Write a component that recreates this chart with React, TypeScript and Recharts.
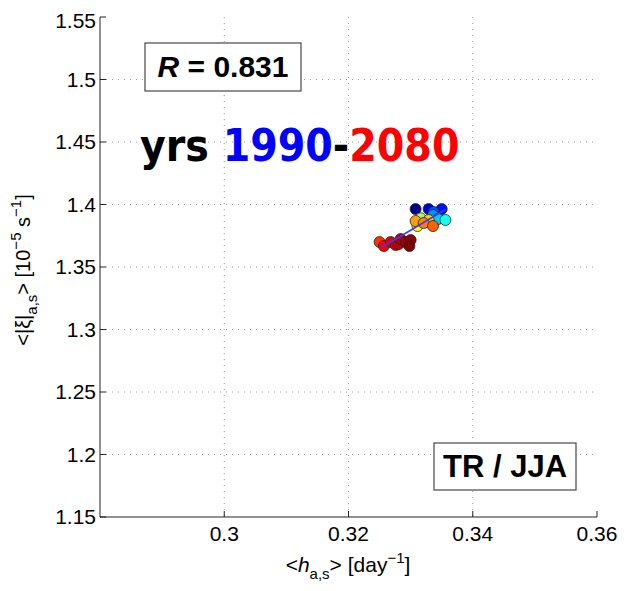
import React from "react";
import {
  ScatterChart,
  Scatter,
  XAxis,
  YAxis,
  CartesianGrid,
  Cell,
} from "recharts";

// h_{a,s} [day^-1]
const xValues = [
  0.3308, 0.3329, 0.3350, 0.3337, 0.3336, 0.3344, 0.3356, 0.3327, 0.3316,
  0.3311, 0.3329, 0.3308, 0.3321, 0.3336, 0.3250, 0.3257, 0.3268, 0.3276,
  0.3281, 0.3284, 0.3292, 0.3300, 0.3298,
];
// <|xi|_{a,s}> [1e-5 s^-1]
const yValues = [
  1.3964, 1.3964, 1.3964, 1.3940, 1.3916, 1.3884, 1.3876, 1.3860, 1.3890,
  1.3828, 1.3876, 1.3868, 1.3852, 1.3828, 1.3700, 1.3668, 1.3700, 1.3676,
  1.3684, 1.3724, 1.3700, 1.3716, 1.3668,
];
const pointColors = [
  "#00008f", "#0000c8", "#0010ff", "#0050ff", "#0090ff", "#00d0ff", "#10ffef",
  "#50ffaf", "#a0ff60", "#ffff00", "#ffd000", "#ffa000", "#ff8000", "#ff6000",
  "#ff3000", "#ff0000", "#e00000", "#d00000", "#c00000", "#b00000", "#a00000",
  "#900000", "#800000",
];
const fitX = [0.3252, 0.3356];
const fitY = [1.3652, 1.3960];

const xTicks = [0.3, 0.32, 0.34, 0.36];
const yTicks = [1.15, 1.2, 1.25, 1.3, 1.35, 1.4, 1.45, 1.5, 1.55];
const xGrid = [0.3, 0.32, 0.34];
const yGrid = [1.2, 1.25, 1.3, 1.35, 1.4, 1.45, 1.5];

const data = xValues.map((x, i) => ({ x, y: yValues[i] }));
const fitData = fitX.map((x, i) => ({ x, y: fitY[i] }));

const W = 610;
const H = 575;
const tickFont = { fontFamily: "'Liberation Sans', Arial, sans-serif", fontSize: 21, fill: "#000" };
const axisColor = "#222";

export default function App() {
  return (
    <div style={{ position: "relative", width: W, height: H }}>
      <ScatterChart
        width={W}
        height={H}
        margin={{ top: 9, right: 21, bottom: 0, left: 0 }}
      >
        <CartesianGrid
          xAxisId="b"
          yAxisId="l"
          stroke="#9a9a9a"
          strokeDasharray="1 5"
          horizontalValues={yGrid}
          verticalValues={xGrid}
        />
        <XAxis
          type="number"
          dataKey="x"
          xAxisId="b"
          domain={[0.28, 0.36]}
          ticks={xTicks}
          tickFormatter={(v: number) => String(v)}
          height={66}
          tickSize={-6}
          tickMargin={15}
          tick={tickFont}
          stroke={axisColor}
          allowDataOverflow
        />
        <XAxis
          type="number"
          xAxisId="t"
          orientation="top"
          domain={[0.28, 0.36]}
          ticks={xTicks}
          height={0}
          tickSize={-6}
          tick={false}
          stroke={axisColor}
          allowDataOverflow
        />
        <YAxis
          type="number"
          dataKey="y"
          yAxisId="l"
          domain={[1.15, 1.55]}
          ticks={yTicks}
          tickFormatter={(v: number) => String(v)}
          width={92}
          tickSize={-6}
          tickMargin={10}
          tick={tickFont}
          stroke={axisColor}
          allowDataOverflow
        />
        <YAxis
          type="number"
          yAxisId="r"
          orientation="right"
          domain={[1.15, 1.55]}
          ticks={yTicks}
          width={0}
          tickSize={-6}
          tick={false}
          stroke={axisColor}
          allowDataOverflow
        />
        <Scatter
          data={data}
          xAxisId="b"
          yAxisId="l"
          isAnimationActive={false}
          shape={(p: any) => (
            <circle cx={p.cx} cy={p.cy} r={5.5} fill={p.fill} stroke="#222" strokeWidth={0.8} />
          )}
        >
          {data.map((_, i) => (
            <Cell key={i} fill={pointColors[i]} />
          ))}
        </Scatter>
        <Scatter
          data={fitData}
          xAxisId="b"
          yAxisId="l"
          isAnimationActive={false}
          line={{ stroke: "#3a3aff", strokeWidth: 1.5 }}
          shape={() => <g />}
        />
      </ScatterChart>
      <svg
        width={W}
        height={H}
        style={{ position: "absolute", left: 0, top: 0, pointerEvents: "none" }}
      >
        <rect x={137} y={35} width={156} height={48} fill="#fff" stroke="#555" strokeWidth={1.3} />
        <text
          x={215}
          y={69}
          textAnchor="middle"
          fontFamily="'Liberation Sans', Arial, sans-serif"
          fontWeight="bold"
          fontSize={30}
          fill="#000"
        >
          <tspan fontStyle="italic">R</tspan> = 0.831
        </text>
        <text
          x={132}
          y={153}
          fontFamily="'DejaVu Sans Condensed', 'DejaVu Sans', sans-serif"
          fontWeight="bold"
          fontSize={44}
          fill="#000"
        >
          yrs <tspan fill="#0000ff">1990</tspan>-<tspan fill="#ff0000">2080</tspan>
        </text>
        <rect x={426} y={435} width={142} height={47} fill="#fff" stroke="#555" strokeWidth={1.3} />
        <text
          x={497}
          y={469}
          textAnchor="middle"
          fontFamily="'Liberation Sans', Arial, sans-serif"
          fontWeight="bold"
          fontSize={31}
          fill="#000"
        >
          TR / JJA
        </text>
        <text
          x={340}
          y={564}
          textAnchor="middle"
          fontFamily="'Liberation Sans', Arial, sans-serif"
          fontSize={21}
          fill="#000"
        >
          {"<"}
          <tspan fontStyle="italic">h</tspan>
          <tspan fontSize={15} dy={7}>a,s</tspan>
          <tspan dy={-7}>{"> [day"}</tspan>
          <tspan fontSize={15} dy={-9}>{"\u22121"}</tspan>
          <tspan dy={9}>]</tspan>
        </text>
        <text
          transform="translate(22,262) rotate(-90)"
          x={0}
          y={0}
          textAnchor="middle"
          fontFamily="'Liberation Sans', Arial, sans-serif"
          fontSize={20}
          fill="#000"
        >
          {"<|\u03be|"}
          <tspan fontSize={15} dy={7}>a,s</tspan>
          <tspan dy={-7}>{"> [10"}</tspan>
          <tspan fontSize={15} dy={-9}>{"\u22125"}</tspan>
          <tspan dy={9}>{" s"}</tspan>
          <tspan fontSize={15} dy={-9}>{"\u22121"}</tspan>
          <tspan dy={9}>]</tspan>
        </text>
      </svg>
    </div>
  );
}
